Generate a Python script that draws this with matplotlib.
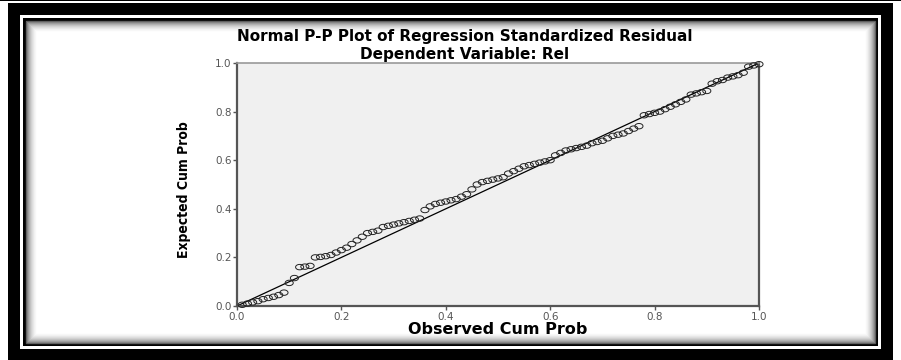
import matplotlib
matplotlib.use("Agg")
import matplotlib.pyplot as plt
import numpy as np
from matplotlib.patches import Rectangle
from matplotlib.path import Path

# observed vs expected cumulative probability
observed = [0.01, 0.02, 0.03, 0.04, 0.05, 0.06, 0.07, 0.08, 0.09, 0.10,
            0.11, 0.12, 0.13, 0.14, 0.15, 0.16, 0.17, 0.18, 0.19, 0.20,
            0.21, 0.22, 0.23, 0.24, 0.25, 0.26, 0.27, 0.28, 0.29, 0.30,
            0.31, 0.32, 0.33, 0.34, 0.35, 0.36, 0.37, 0.38, 0.39, 0.40,
            0.41, 0.42, 0.43, 0.44, 0.45, 0.46, 0.47, 0.48, 0.49, 0.50,
            0.51, 0.52, 0.53, 0.54, 0.55, 0.56, 0.57, 0.58, 0.59, 0.60,
            0.61, 0.62, 0.63, 0.64, 0.65, 0.66, 0.67, 0.68, 0.69, 0.70,
            0.71, 0.72, 0.73, 0.74, 0.75, 0.76, 0.77, 0.78, 0.79, 0.80,
            0.81, 0.82, 0.83, 0.84, 0.85, 0.86, 0.87, 0.88, 0.89, 0.90,
            0.91, 0.92, 0.93, 0.94, 0.95, 0.96, 0.97, 0.98, 0.99, 1.00]
expected = [0.005, 0.010, 0.015, 0.020, 0.028, 0.033, 0.038, 0.045, 0.055, 0.095,
            0.115, 0.160, 0.162, 0.165, 0.200, 0.202, 0.205, 0.210, 0.220, 0.230,
            0.240, 0.255, 0.270, 0.285, 0.300, 0.305, 0.310, 0.325, 0.330, 0.335,
            0.340, 0.345, 0.350, 0.355, 0.360, 0.395, 0.410, 0.420, 0.425, 0.430,
            0.435, 0.440, 0.450, 0.460, 0.480, 0.500, 0.510, 0.515, 0.520, 0.525,
            0.530, 0.545, 0.555, 0.565, 0.575, 0.580, 0.585, 0.590, 0.595, 0.600,
            0.620, 0.630, 0.640, 0.645, 0.650, 0.655, 0.660, 0.670, 0.675, 0.680,
            0.690, 0.700, 0.705, 0.710, 0.720, 0.730, 0.740, 0.785, 0.790, 0.795,
            0.800, 0.810, 0.820, 0.830, 0.840, 0.850, 0.870, 0.875, 0.880, 0.885,
            0.915, 0.925, 0.930, 0.940, 0.945, 0.950, 0.960, 0.985, 0.990, 0.995]
ticks = [0.0, 0.2, 0.4, 0.6, 0.8, 1.0]

W, H = 901, 360
fig = plt.figure(figsize=(W / 100, H / 100), dpi=100)
fig.patch.set_facecolor("white")

def px_rect(x0, y0, x1, y1, **kw):
    # rectangle in pixel coords (origin top-left), kept behind the axes
    fig.patches.append(Rectangle((x0 / W, 1 - y1 / H), (x1 - x0) / W, (y1 - y0) / H,
                                 transform=fig.transFigure, figure=fig,
                                 zorder=-10, **kw))

# frame: thin top line, thick black band, white gap, black line, soft shadow
px_rect(0, 0, W, 1, facecolor="black", edgecolor="none")
px_rect(8, 3, 893, 360, facecolor="black", edgecolor="none")
px_rect(20, 15, 881, 349, facecolor="white", edgecolor="none")
px_rect(23, 18, 878, 346, facecolor="black", edgecolor="none")
px_rect(26, 21, 875, 343, facecolor="white", edgecolor="none")
for i, g in enumerate([0.35, 0.5, 0.6, 0.68, 0.75, 0.81, 0.86, 0.9, 0.94, 0.97]):
    px_rect(26 + i, 21 + i, 875 - i, 343 - i, facecolor="none",
            edgecolor=(g, g, g), linewidth=1.0)

# the picture is stretched sideways, so the circles are wide ovals
t = np.linspace(0, 2 * np.pi, 40)
oval = Path(np.column_stack([1.5 * np.cos(t), np.sin(t)]), closed=True)

ax = fig.add_axes([237 / W, 1 - 306 / H, 522 / W, 243 / H])
ax.set_facecolor("#f0f0f0")
ax.plot([0, 1], [0, 1], color="black", linewidth=0.9, zorder=2)
ax.scatter(observed, expected, s=34, marker=oval, facecolors="none",
           edgecolors="#222222", linewidths=0.7, zorder=3, clip_on=False)
ax.set_xlim(0, 1)
ax.set_ylim(0, 1)
ax.set_xticks(ticks)
ax.set_yticks(ticks)
ax.set_xticklabels(["%.1f" % v for v in ticks])
ax.set_yticklabels(["%.1f" % v for v in ticks])

for side in ["left", "bottom", "right"]:
    ax.spines[side].set_color("#555555")
    ax.spines[side].set_linewidth(1.6)
ax.spines["top"].set_color("#999999")
ax.spines["top"].set_linewidth(1.2)
ax.tick_params(axis="both", colors="#555555", labelcolor="#555555",
               labelsize=7.5, length=3, width=1, pad=1)

fig.text(0.516, 1 - 37 / H, "Normal P-P Plot of Regression Standardized Residual",
         ha="center", va="center", fontsize=11, fontweight="bold",
         family="DejaVu Sans")
fig.text(0.516, 1 - 55 / H, "Dependent Variable: Rel",
         ha="center", va="center", fontsize=11, fontweight="bold",
         family="DejaVu Sans")
fig.text(498 / W, 1 - 330 / H, "Observed Cum Prob", ha="center", va="center",
         fontsize=11.5, fontweight="bold", family="DejaVu Sans")
fig.text(184 / W, 1 - 190 / H, "Expected Cum Prob", ha="center", va="center",
         rotation=90, fontsize=10, fontweight="bold", family="DejaVu Sans",
         fontstretch="condensed")

fig.savefig("out.png", dpi=100)
